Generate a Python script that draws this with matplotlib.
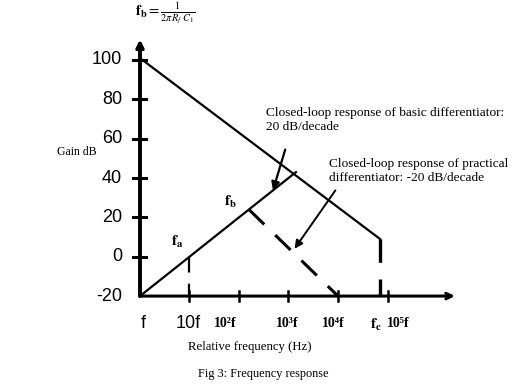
import matplotlib.pyplot as plt

plt.rcParams['mathtext.fontset'] = 'stix'
serif = ['Liberation Serif', 'DejaVu Serif']
sans = ['Liberation Sans', 'DejaVu Sans']

# frequency in decades above f, gain in dB
decades = [0, 1, 2, 3, 4, 5]
gain_ticks = [100, 80, 60, 40, 20, 0, -20]
gain_labels = ['100', '80', '60', '40', '20', '0', '-20']

# rising line (basic differentiator, +20 dB/decade)
rise_f = [0, 3.15]
rise_db = [-20, 43]
# falling line (-20 dB/decade)
fall_f = [0.05, 4.85]
fall_db = [100, 9]
# dashed roll-off from fb
fb_f = [2.2, 4.0]
fb_db = [24, -20]

fig = plt.figure(figsize=(5.12, 3.84), dpi=100)
ax = fig.add_axes([0, 0, 1, 1])
ax.set_xlim(-2.828, 7.515)
ax.set_ylim(-64.7, 130.5)
ax.axis('off')

# axes with arrows
ax.annotate('', xy=(6.36, -20), xytext=(0, -20),
            arrowprops=dict(arrowstyle='->', lw=2.2, color='black', shrinkA=0, shrinkB=0))
ax.annotate('', xy=(0, 110.5), xytext=(0, -20),
            arrowprops=dict(arrowstyle='->', lw=2.8, color='black', shrinkA=0, shrinkB=0))

# y ticks and labels
for g, lab in zip(gain_ticks, gain_labels):
    if g > -20:
        ax.plot([-0.14, 0.12], [g, g], color='black', lw=2.2)
    ax.text(-0.36, g, lab, ha='right', va='center', fontsize=13, family=sans)

# x ticks
for d in decades[1:]:
    ax.plot([d, d], [-17.5, -22.5], color='black', lw=1.8)

# x tick labels
ax.text(0.06, -33.7, 'f', ha='center', va='center', fontsize=13, family=sans)
ax.text(0.97, -33.7, '10f', ha='center', va='center', fontsize=13, family=sans)
ax.text(1.72, -33.7, '10²f', ha='center', va='center', fontsize=10, family=serif, weight='bold')
ax.text(2.97, -33.7, '10³f', ha='center', va='center', fontsize=10, family=serif, weight='bold')
ax.text(3.90, -33.7, '10⁴f', ha='center', va='center', fontsize=10, family=serif, weight='bold')
ax.text(4.77, -34.5, r'$\mathbf{f_c}$', ha='center', va='center', fontsize=11)
ax.text(5.21, -33.7, '10⁵f', ha='center', va='center', fontsize=10, family=serif, weight='bold')

# response lines
ax.plot(rise_f, rise_db, color='black', lw=1.6)
ax.plot(fall_f, fall_db, color='black', lw=1.6)
ax.plot(fb_f, fb_db, color='black', lw=2.2, linestyle=(0, (7, 5)))
ax.plot([1, 1], [rise_db[0] + 20, -20], color='black', lw=1.6, linestyle=(0, (7, 5)))
ax.plot([fall_f[1], fall_f[1]], [fall_db[1], -20], color='black', lw=2.4, linestyle=(0, (7, 5)))

# annotations
ax.text(2.55, 76, 'Closed-loop response of basic differentiator:\n20 dB/decade',
        ha='left', va='top', fontsize=9.6, family=serif, linespacing=1.2)
ax.annotate('', xy=(2.67, 32.4), xytext=(2.95, 55.8),
            arrowprops=dict(arrowstyle='-|>', lw=1.6, color='black', mutation_scale=12))
ax.text(3.82, 50, 'Closed-loop response of practical\ndifferentiator: -20 dB/decade',
        ha='left', va='top', fontsize=9.6, family=serif, linespacing=1.2)
ax.annotate('', xy=(3.09, 2.9), xytext=(3.98, 34.9),
            arrowprops=dict(arrowstyle='-|>', lw=1.4, color='black', mutation_scale=12))

ax.text(1.82, 27.8, r'$\mathbf{f_b}$', ha='center', va='center', fontsize=11)
ax.text(0.75, 7.5, r'$\mathbf{f_a}$', ha='center', va='center', fontsize=11)
ax.text(-1.68, 53.2, 'Gain dB', ha='left', va='center', fontsize=8.5, family=serif)
ax.text(-0.1, 123.9, r'$\mathbf{f_b} = \frac{1}{2\pi R_f\ C_1}$', ha='left', va='center', fontsize=10.5)

ax.text(2.22, -45.9, 'Relative frequency (Hz)', ha='center', va='center', fontsize=9.2, family=serif)
ax.text(2.5, -59.6, 'Fig 3: Frequency response', ha='center', va='center', fontsize=8.8, family=serif)

fig.savefig('out.png', dpi=100)
